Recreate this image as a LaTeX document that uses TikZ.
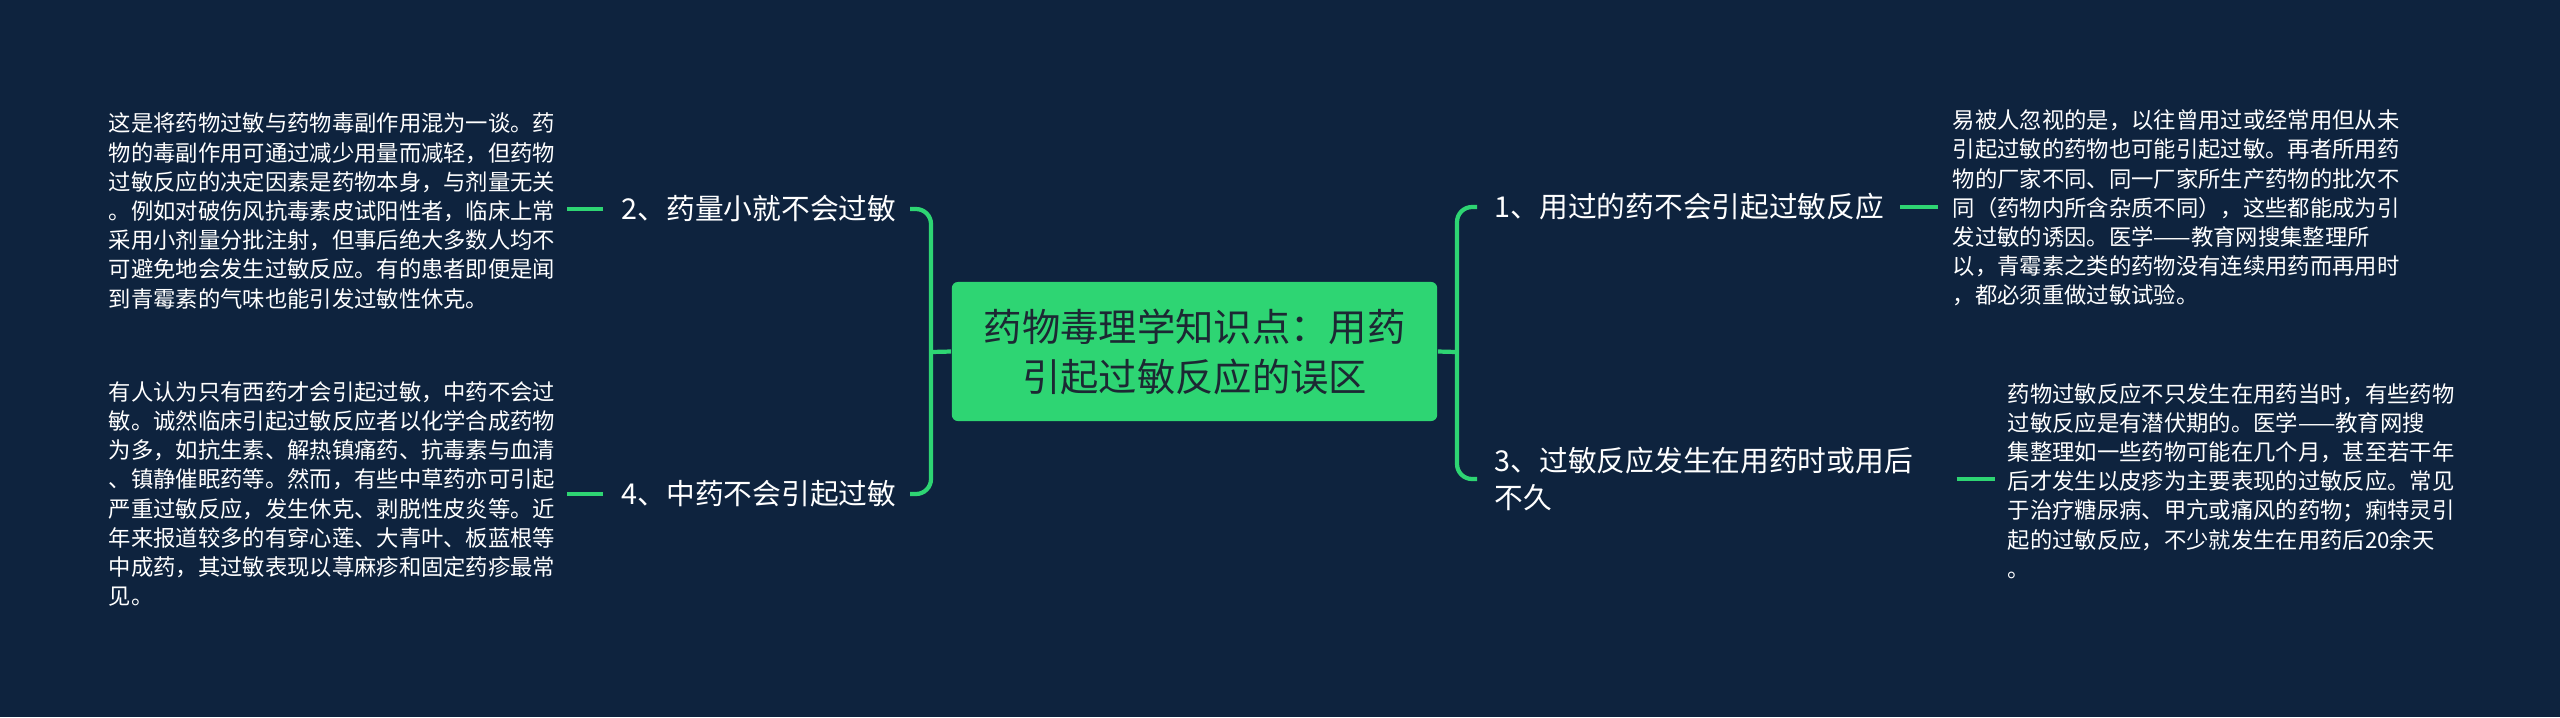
\documentclass[tikz,border=0pt]{standalone}
\usepackage{fontspec}
\setmainfont{Noto Sans CJK SC}
\usepackage{xcolor}
\usepackage{tikz}
\usetikzlibrary{calc, positioning}
\definecolor{mapnavy}{HTML}{0E233E}
\definecolor{mapgreen}{HTML}{2ED573}
\definecolor{mapink}{HTML}{1C2833}

\begin{document}
\begin{tikzpicture}[x=0.01cm, y=-0.01cm,
  rootbox/.style={fill=mapgreen, rounded corners=0.06cm, minimum width=4.85cm,
    minimum height=1.39cm, align=center, text=mapink,
    font=\fontsize{10.9pt}{14.2pt}\selectfont},
  branch/.style={text=white, inner sep=0pt, align=left,
    font=\fontsize{8.17pt}{10.8pt}\selectfont},
  leaf/.style={text=white, inner sep=0pt, align=left, text width=4.45cm,
    font=\fontsize{6.35pt}{8.3pt}\selectfont},
  link/.style={draw=mapgreen, line width=1.2pt}]
  % canvas
  \fill[mapnavy] (0,0) rectangle (2560,717);
  \useasboundingbox (0,0) rectangle (2560,717);
  % centre
  \node[rootbox] (root) at (1194.5,351.5) {药物毒理学知识点：用药\\引起过敏反应的误区};
  \coordinate (rj) at (1457,352);
  \coordinate (lj) at (931,352);
  % branches
  \node[branch, anchor=west] (b1) at (1494,207) {1、用过的药不会引起过敏反应};
  \node[branch, anchor=west] (b3) at (1494,479) {3、过敏反应发生在用药时或用后\\不久};
  \node[branch, anchor=east] (b2) at (897,209) {2、药量小就不会过敏};
  \node[branch, anchor=east] (b4) at (897,494) {4、中药不会引起过敏};
  % details
  \node[leaf, anchor=west] (d1) at (1952,208) {易被人忽视的是，以往曾用过或经常用但从未\\
    引起过敏的药物也可能引起过敏。再者所用药\\
    物的厂家不同、同一厂家所生产药物的批次不\\
    同（药物内所含杂质不同），这些都能成为引\\
    发过敏的诱因。医学——教育网搜集整理所\\
    以，青霉素之类的药物没有连续用药而再用时\\
    ，都必须重做过敏试验。};
  \node[leaf, anchor=west] (d3) at (2007,481) {药物过敏反应不只发生在用药当时，有些药物\\
    过敏反应是有潜伏期的。医学——教育网搜\\
    集整理如一些药物可能在几个月，甚至若干年\\
    后才发生以皮疹为主要表现的过敏反应。常见\\
    于治疗糖尿病、甲亢或痛风的药物；痢特灵引\\
    起的过敏反应，不少就发生在用药后20余天\\
    。};
  \node[leaf, anchor=west] (d2) at (108,211) {这是将药物过敏与药物毒副作用混为一谈。药\\
    物的毒副作用可通过减少用量而减轻，但药物\\
    过敏反应的决定因素是药物本身，与剂量无关\\
    。例如对破伤风抗毒素皮试阳性者，临床上常\\
    采用小剂量分批注射，但事后绝大多数人均不\\
    可避免地会发生过敏反应。有的患者即便是闻\\
    到青霉素的气味也能引发过敏性休克。};
  \node[leaf, anchor=west] (d4) at (108,494) {有人认为只有西药才会引起过敏，中药不会过\\
    敏。诚然临床引起过敏反应者以化学合成药物\\
    为多，如抗生素、解热镇痛药、抗毒素与血清\\
    、镇静催眠药等。然而，有些中草药亦可引起\\
    严重过敏反应，发生休克、剥脱性皮炎等。近\\
    年来报道较多的有穿心莲、大青叶、板蓝根等\\
    中成药，其过敏表现以荨麻疹和固定药疹最常\\
    见。};
  % brackets
  \draw[link] (root.east) -- (rj);
  \draw[link] (root.west) -- (lj);
  \draw[link, rounded corners=0.15cm] ($(b1.west)+(-17,0)$) -| (rj) |- ($(b3.west)+(-17,0)$);
  \draw[link, rounded corners=0.15cm] ($(b2.east)+(13,0)$) -| (lj) |- ($(b4.east)+(13,0)$);
  % leaf links
  \draw[link] ($(b1.east)+(15,0)$) -- ($(b1.east -| d1.west)+(-14,0)$);
  \draw[link] ($(b3.east)+(43,0)$) -- ($(b3.east -| d3.west)+(-12,0)$);
  \draw[link] ($(b2.west)+(-18,0)$) -- ($(b2.west -| d2.east)+(12,0)$);
  \draw[link] ($(b4.west)+(-18,0)$) -- ($(b4.west -| d4.east)+(12,0)$);
\end{tikzpicture}
\end{document}
